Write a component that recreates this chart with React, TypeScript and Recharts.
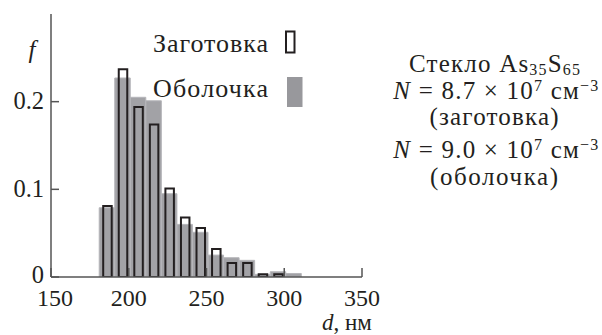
import React from "react";
import { ComposedChart, Bar, XAxis, YAxis, Legend } from "recharts";

// bin centres (nm) and fractions f for the two samples
const bins = [186, 196, 206, 216, 226, 236, 246, 256, 266, 276, 286, 296, 306];
const shell = [0.079, 0.227, 0.205, 0.201, 0.095, 0.06, 0.051, 0.025, 0.022, 0.019, 0.003, 0.006, 0.004];
const blank = [0.081, 0.237, 0.194, 0.174, 0.101, 0.068, 0.056, 0.032, 0.016, 0.016, 0.003, 0.003, null];

const xTicks = [150, 200, 250, 300, 350];
const yTicks = [0, 0.1, 0.2];

const seriesNames = { blank: "Заготовка", shell: "Оболочка" };

const FONT = "'Liberation Serif', 'Times New Roman', serif";
const INK = "#231f20";
const GRAY = "#a2a2a6";

const rows = bins.map((d, i) => ({ d, shell: shell[i], blank: blank[i] }));

const YTick = (props: any) => {
  const { x, y, payload } = props;
  const v = payload.value;
  return (
    <text x={x} y={y} dy={v === 0 ? 6 : 7.5} textAnchor="end" fontFamily={FONT} fontSize={24.5} fill={INK}>
      {v === 0 ? "0" : v.toFixed(1)}
    </text>
  );
};

const XTick = (props: any) => {
  const { x, y, payload } = props;
  const v = payload.value;
  return (
    <text x={v === 150 ? x + 4 : x} y={y} dy={16} textAnchor="middle" fontFamily={FONT} fontSize={24} fill={INK}>
      {v}
    </text>
  );
};

const LegendBox = () => (
  <svg width={170} height={90} style={{ display: "block" }}>
    <text x={3} y={27} fontFamily={FONT} fontSize={26} textLength={115} fill={INK}>{seriesNames.blank}</text>
    <rect x={136} y={6.5} width={8.5} height={21} fill="none" stroke={INK} strokeWidth={2} />
    <text x={3} y={72} fontFamily={FONT} fontSize={26} textLength={115} fill={INK}>{seriesNames.shell}</text>
    <rect x={137} y={52} width={15.5} height={30} fill="#98989c" />
  </svg>
);

export default function App() {
  return (
    <div style={{ position: "absolute", left: 0, top: 0, width: 602, height: 335, background: "#fff" }}>
      <ComposedChart
        width={602}
        height={335}
        data={rows}
        margin={{ top: 14, left: 50, right: 240, bottom: 57 }}
      >
        <XAxis
          xAxisId="a"
          dataKey="d"
          type="number"
          domain={[150, 350]}
          ticks={xTicks}
          height={1}
          tickSize={-9}
          tickMargin={22}
          axisLine={{ stroke: "#555", strokeWidth: 1.5 }}
          tickLine={{ stroke: "#555", strokeWidth: 1.5 }}
          tick={<XTick />}
          interval={0}
          allowDataOverflow
        />
        <XAxis xAxisId="b" dataKey="d" type="number" domain={[150, 350]} hide allowDataOverflow />
        <YAxis
          type="number"
          domain={[0, 0.3]}
          ticks={yTicks}
          width={1}
          tickSize={-8}
          tickMargin={15}
          axisLine={{ stroke: "#555", strokeWidth: 1.5 }}
          tickLine={{ stroke: "#555", strokeWidth: 1.5 }}
          tick={<YTick />}
          interval={0}
          allowDataOverflow
        />
        <Bar
          xAxisId="b"
          dataKey="shell"
          name={seriesNames.shell}
          fill={GRAY}
          stroke="#b6b6ba"
          strokeWidth={1}
          barSize={15.5}
          isAnimationActive={false}
        />
        <Bar
          xAxisId="a"
          dataKey="blank"
          name={seriesNames.blank}
          fill="none"
          stroke={INK}
          strokeWidth={2}
          barSize={8.5}
          isAnimationActive={false}
        />
        <Legend
          layout="horizontal"
          verticalAlign="middle"
          align="center"
          content={<LegendBox />}
          wrapperStyle={{ position: "absolute", left: 150, top: 25, width: 170, height: 90 }}
        />
      </ComposedChart>

      <svg
        width={602}
        height={335}
        style={{ position: "absolute", left: 0, top: 0, pointerEvents: "none" }}
        fontFamily={FONT}
        fill={INK}
      >
        <text x={32} y={58} fontSize={25} fontStyle="italic" textAnchor="middle">f</text>
        <text x={322} y={330} fontSize={23}>
          <tspan fontStyle="italic">d</tspan>, нм
        </text>
        <g fontSize={25} textAnchor="middle">
          <text x={494.5} y={72} textLength={171}>
            Стекло As<tspan fontSize={16} dy={3}>35</tspan>
            <tspan dy={-3}>S</tspan>
            <tspan fontSize={16} dy={3}>65</tspan>
          </text>
          <text x={495.8} y={98.5} textLength={205}>
            <tspan fontStyle="italic">N</tspan> = 8.7 × 10<tspan fontSize={16} dy={-8}>7</tspan>
            <tspan dy={8}> см</tspan>
            <tspan fontSize={16} dy={-8}>−3</tspan>
          </text>
          <text x={494} y={125} textLength={129}>(заготовка)</text>
          <text x={495.8} y={158} textLength={205}>
            <tspan fontStyle="italic">N</tspan> = 9.0 × 10<tspan fontSize={16} dy={-8}>7</tspan>
            <tspan dy={8}> см</tspan>
            <tspan fontSize={16} dy={-8}>−3</tspan>
          </text>
          <text x={494} y={184.5} textLength={128}>(оболочка)</text>
        </g>
      </svg>
    </div>
  );
}
